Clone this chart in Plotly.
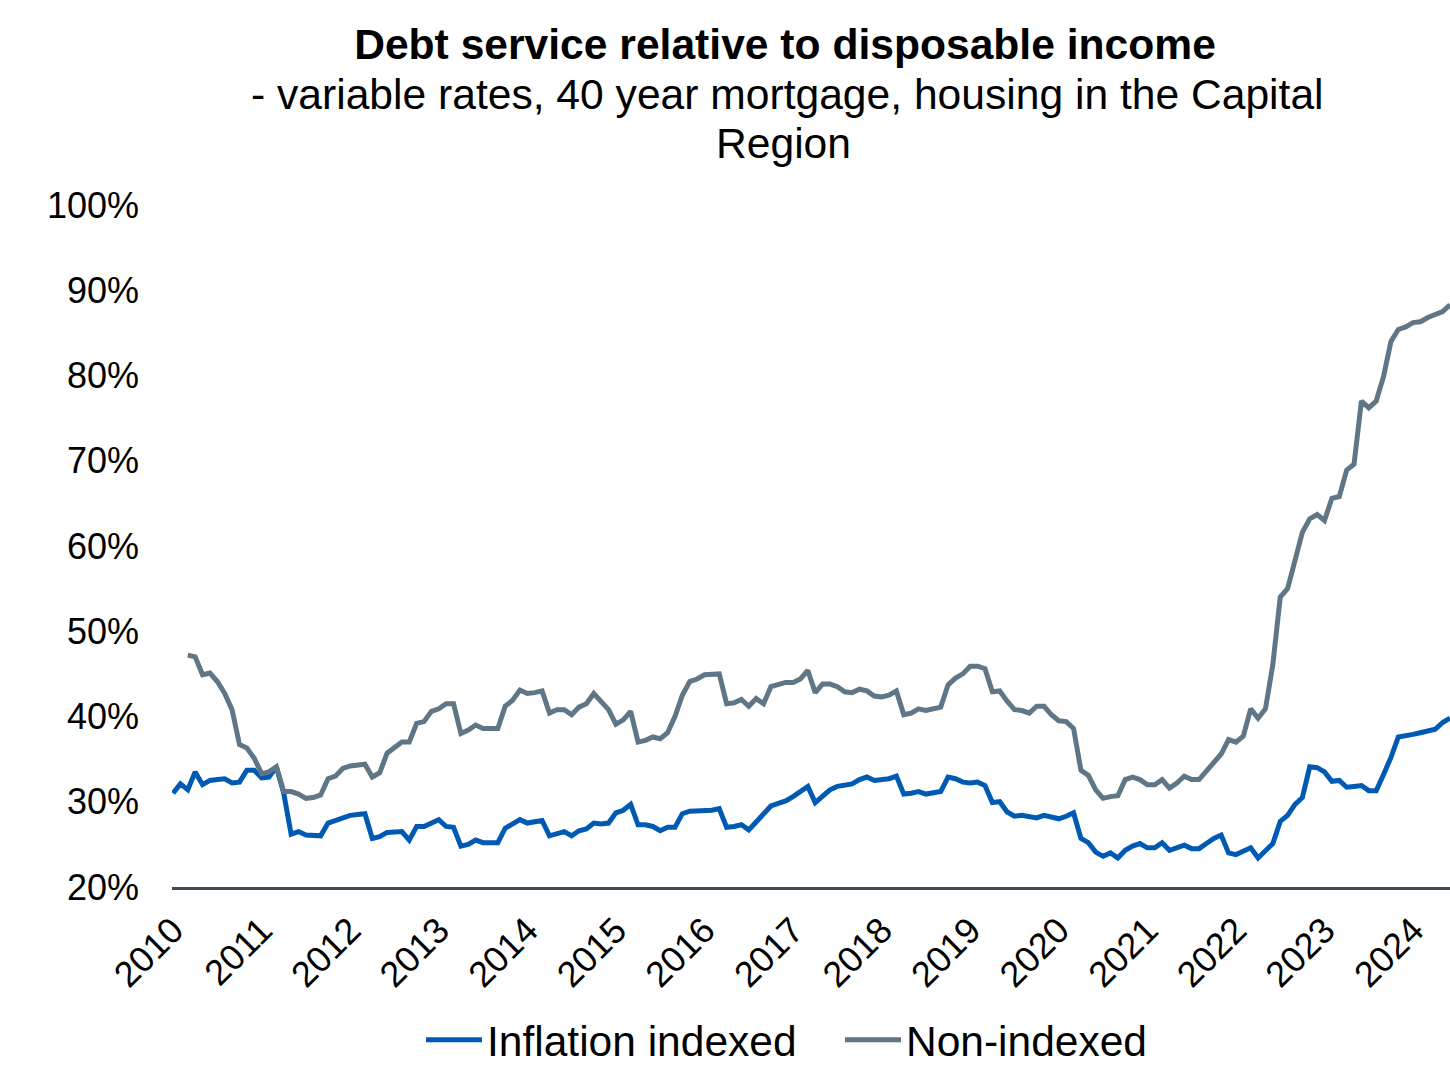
import plotly.graph_objects as go

# Monthly observations, Jan 2010 onwards (percent of disposable income)
inflation_indexed = [
    31.0, 32.1, 31.4, 33.5, 32.0, 32.5, 32.6, 32.7, 32.2, 32.3, 33.7, 33.7,
    32.8, 32.9, 34.1, 31.0, 26.2, 26.5, 26.1, 26.0, 26.0, 27.5, 27.8, 28.1,
    28.4, 28.5, 28.6, 25.7, 25.9, 26.4, 26.4, 26.5, 25.5, 27.1, 27.1, 27.5,
    27.9, 27.1, 27.0, 24.8, 25.0, 25.5, 25.2, 25.2, 25.2, 26.9, 27.4, 27.9,
    27.5, 27.6, 27.8, 26.0, 26.3, 26.5, 26.0, 26.6, 26.8, 27.5, 27.4, 27.5,
    28.7, 29.0, 29.7, 27.3, 27.3, 27.1, 26.6, 27.0, 27.0, 28.6, 28.9, 28.9,
    28.9, 29.0, 29.2, 27.0, 27.1, 27.3, 26.7, 27.6, 28.5, 29.5, 29.8, 30.1,
    30.6, 31.2, 31.8, 29.9, 30.7, 31.4, 31.8, 32.0, 32.1, 32.6, 32.9, 32.5,
    32.6, 32.7, 33.0, 30.9, 31.0, 31.2, 30.9, 31.1, 31.2, 32.9, 32.7, 32.3,
    32.2, 32.3, 31.9, 29.9, 30.0, 28.8, 28.3, 28.4, 28.2, 28.1, 28.4, 28.2,
    28.0, 28.3, 28.7, 25.7, 25.2, 24.1, 23.6, 24.0, 23.4, 24.3, 24.8, 25.1,
    24.6, 24.6, 25.2, 24.3, 24.6, 24.9, 24.5, 24.5, 25.1, 25.7, 26.1, 24.0,
    23.8, 24.2, 24.6, 23.4, 24.3, 25.1, 27.7, 28.4, 29.7, 30.5, 34.1, 34.0,
    33.5, 32.4, 32.5, 31.7, 31.8, 31.9, 31.3, 31.3, 33.2, 35.2, 37.6, 37.7,
    37.9, 38.1, 38.3, 38.5, 39.3, 39.8,
]

non_indexed = [
    None, None, 47.2, 47.0, 44.9, 45.1, 44.1, 42.7, 40.8, 36.7, 36.3, 35.1,
    33.3, 33.5, 34.1, 31.2, 31.2, 30.9, 30.4, 30.5, 30.8, 32.7, 33.0, 33.9,
    34.2, 34.3, 34.4, 32.9, 33.4, 35.7, 36.4, 37.0, 37.0, 39.2, 39.4, 40.6,
    40.9, 41.5, 41.5, 38.0, 38.4, 39.0, 38.6, 38.6, 38.6, 41.2, 41.9, 43.1,
    42.7, 42.8, 43.0, 40.4, 40.8, 40.8, 40.2, 41.1, 41.5, 42.7, 41.7, 40.8,
    39.1, 39.6, 40.6, 37.0, 37.2, 37.6, 37.4, 38.1, 40.0, 42.5, 44.1, 44.4,
    44.9, 45.0, 45.0, 41.5, 41.6, 42.0, 41.2, 42.1, 41.5, 43.5, 43.7, 44.0,
    44.0, 44.4, 45.4, 42.8, 43.8, 43.8, 43.5, 42.9, 42.8, 43.2, 43.0, 42.4,
    42.3, 42.5, 43.0, 40.2, 40.4, 40.9, 40.7, 40.9, 41.1, 43.7, 44.5, 45.0,
    45.9, 45.9, 45.6, 42.9, 43.0, 41.8, 40.8, 40.7, 40.4, 41.2, 41.2, 40.2,
    39.5, 39.4, 38.6, 33.7, 33.1, 31.4, 30.4, 30.6, 30.7, 32.6, 32.9, 32.6,
    32.0, 32.0, 32.6, 31.6, 32.2, 33.0, 32.6, 32.6, 33.6, 34.8, 35.6, 37.3,
    37.0, 37.7, 40.9, 39.8, 40.9, 46.1, 54.0, 55.0, 58.3, 61.6, 63.2, 63.7,
    63.0, 65.6, 65.8, 68.9, 69.6, 77.0, 76.2, 77.0, 79.9, 84.0, 85.4, 85.7,
    86.2, 86.3, 86.8, 87.1, 87.5, 88.3,
]

year_labels = [str(y) for y in range(2010, 2025)]
month_index = list(range(len(inflation_indexed)))
year_ticks = [12 * k for k in range(len(year_labels))]

FONT = "Liberation Sans, Arial, sans-serif"
BLUE = "#005AB4"
GREY = "#5F7687"

fig = go.Figure()
fig.add_trace(go.Scatter(
    x=month_index, y=inflation_indexed, mode="lines", name="Inflation indexed",
    line=dict(color=BLUE, width=5),
))
fig.add_trace(go.Scatter(
    x=month_index, y=non_indexed, mode="lines", name="Non-indexed",
    line=dict(color=GREY, width=5),
))

fig.update_layout(
    width=1450, height=1065,
    margin=dict(l=172, r=0, t=205, b=178, autoexpand=False),
    paper_bgcolor="white", plot_bgcolor="white",
    font=dict(family=FONT, color="black"),
    title=dict(
        text="<b>Debt service relative to disposable income</b>",
        font=dict(size=42.6, family=FONT, color="black"),
        x=785 / 1450, xref="container", xanchor="center",
        y=1 - 44 / 1065, yref="container", yanchor="middle",
    ),
    annotations=[
        dict(text="- variable rates, 40 year mortgage, housing in the Capital",
             x=(787 - 172) / 1278, xref="paper", xanchor="center",
             y=(887 - 94) / 682, yref="paper", yanchor="middle",
             showarrow=False, font=dict(size=42.6, family=FONT, color="black")),
        dict(text="Region",
             x=(783 - 172) / 1278, xref="paper", xanchor="center",
             y=(887 - 143) / 682, yref="paper", yanchor="middle",
             showarrow=False, font=dict(size=42.6, family=FONT, color="black")),
    ],
    showlegend=True,
    legend=dict(
        orientation="h", x=(421 - 172) / 1278, xanchor="left",
        y=(887 - 1040) / 682, yanchor="middle",
        font=dict(size=42.5, family=FONT, color="black"),
        itemwidth=56, entrywidth=348, bgcolor="rgba(0,0,0,0)",
    ),
    xaxis=dict(
        range=[-0.14, 173.0],
        tickmode="array", tickvals=year_ticks, ticktext=year_labels,
        tickangle=-45, tickfont=dict(size=36, family=FONT, color="black"),
        showgrid=False, zeroline=False, automargin=False,
        showline=True, linecolor="#3E4A54", linewidth=2.5,
        ticks="", ticklabelstandoff=5,
    ),
    yaxis=dict(
        range=[20, 100], dtick=10, tick0=20, ticksuffix="%",
        tickfont=dict(size=36, family=FONT, color="black"),
        showgrid=False, zeroline=False, showline=False, automargin=False,
        ticks="", ticklabelstandoff=32,
    ),
)

fig.write_html(
    "out.html",
    config={"displayModeBar": False},
    post_script="document.body.style.margin='0px';document.body.style.overflow='hidden';",
)
